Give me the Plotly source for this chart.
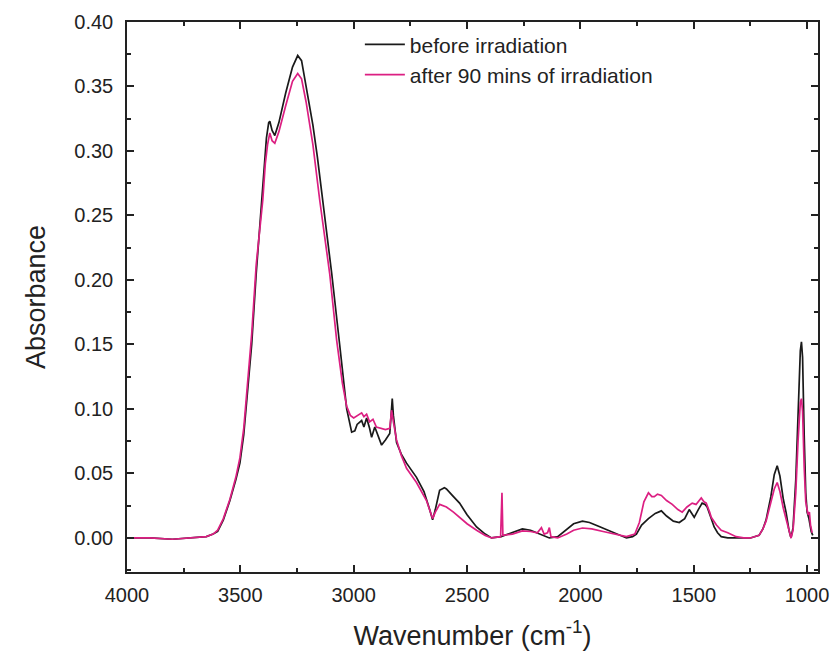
import plotly.graph_objects as go

wn_before = [4000, 3900, 3800, 3700, 3650, 3620, 3600, 3575, 3546, 3520, 3502, 3485, 3471, 3450, 3430,
             3410, 3395, 3385, 3375, 3370, 3360, 3348, 3330, 3300, 3270, 3247, 3230, 3210, 3180, 3160,
             3137, 3097, 3062, 3031, 3009, 2995, 2985, 2965, 2955, 2943, 2930, 2921, 2907, 2895, 2877,
             2860, 2841, 2835, 2830, 2825, 2811, 2790, 2767, 2723, 2690, 2665, 2652, 2640, 2621, 2600,
             2591, 2560, 2533, 2500, 2458, 2420, 2392, 2350, 2300, 2256, 2220, 2180, 2137, 2100, 2060,
             2030, 1991, 1960, 1920, 1880, 1840, 1797, 1770, 1753, 1730, 1700, 1670, 1643, 1620, 1590,
             1564, 1540, 1520, 1505, 1498, 1480, 1463, 1450, 1441, 1425, 1410, 1395, 1379, 1350, 1300,
             1250, 1212, 1195, 1181, 1160, 1145, 1132, 1120, 1105, 1093, 1080, 1071, 1062, 1050, 1040,
             1030, 1025, 1020, 1013, 1006, 1000, 992, 982, 975]
ab_before = [0.000, 0.000, -0.001, 0.000, 0.001, 0.003, 0.005, 0.014, 0.029, 0.045, 0.058, 0.080, 0.107, 0.150, 0.205,
             0.255, 0.290, 0.310, 0.322, 0.323, 0.316, 0.312, 0.322, 0.345, 0.365, 0.374, 0.370, 0.350, 0.320, 0.295,
             0.262, 0.205, 0.150, 0.100, 0.082, 0.083, 0.088, 0.091, 0.086, 0.093, 0.085, 0.078, 0.086, 0.080, 0.072,
             0.076, 0.081, 0.095, 0.108, 0.095, 0.074, 0.065, 0.058, 0.047, 0.036, 0.022, 0.014, 0.022, 0.037, 0.039,
             0.038, 0.032, 0.027, 0.018, 0.0085, 0.003, 0.000, 0.001, 0.004, 0.007, 0.006, 0.003, 0.000, 0.001, 0.007,
             0.011, 0.013, 0.012, 0.009, 0.006, 0.003, 0.000, 0.001, 0.003, 0.010, 0.015, 0.019, 0.021, 0.017, 0.013,
             0.012, 0.015, 0.022, 0.018, 0.016, 0.022, 0.027, 0.026, 0.024, 0.016, 0.0085, 0.004, 0.001, 0.000, 0.000,
             0.000, 0.002, 0.007, 0.014, 0.032, 0.049, 0.056, 0.048, 0.030, 0.020, 0.006, 0.000, 0.008, 0.045, 0.100,
             0.145, 0.152, 0.140, 0.080, 0.035, 0.020, 0.015, 0.005, 0.002]

wn_after = [4000, 3900, 3800, 3700, 3650, 3620, 3600, 3575, 3546, 3520, 3502, 3485, 3471, 3450, 3430,
            3410, 3401, 3390, 3380, 3370, 3360, 3348, 3330, 3300, 3270, 3247, 3230, 3210, 3180, 3150,
            3106, 3075, 3050, 3031, 3015, 3000, 2985, 2965, 2955, 2943, 2930, 2915, 2900, 2880, 2860,
            2841, 2833, 2825, 2811, 2790, 2767, 2723, 2679, 2652, 2640, 2621, 2591, 2560, 2533, 2500,
            2458, 2420, 2392, 2352, 2346, 2342, 2300, 2256, 2220, 2190, 2172, 2160, 2145, 2137, 2130,
            2100, 2060, 2030, 1991, 1950, 1900, 1850, 1797, 1760, 1740, 1720, 1700, 1685, 1674, 1660,
            1643, 1620, 1595, 1570, 1551, 1530, 1507, 1490, 1467, 1455, 1445, 1430, 1423, 1400, 1379,
            1350, 1313, 1280, 1250, 1212, 1195, 1181, 1160, 1145, 1132, 1120, 1105, 1093, 1080, 1071,
            1062, 1050, 1040, 1030, 1025, 1020, 1013, 1006, 1000, 995, 990, 985, 978]
ab_after = [0.000, 0.000, -0.001, 0.000, 0.001, 0.003, 0.006, 0.015, 0.030, 0.047, 0.062, 0.085, 0.112, 0.158, 0.212,
            0.250, 0.262, 0.290, 0.305, 0.314, 0.308, 0.306, 0.315, 0.335, 0.354, 0.360, 0.356, 0.338, 0.305, 0.262,
            0.205, 0.153, 0.120, 0.102, 0.095, 0.093, 0.095, 0.097, 0.094, 0.096, 0.090, 0.092, 0.086, 0.085, 0.084,
            0.085, 0.099, 0.090, 0.076, 0.064, 0.054, 0.043, 0.029, 0.015, 0.020, 0.026, 0.024, 0.020, 0.016, 0.011,
            0.006, 0.002, 0.000, 0.001, 0.035, 0.002, 0.003, 0.0055, 0.005, 0.004, 0.008, 0.003, 0.004, 0.008, 0.001,
            0.000, 0.003, 0.006, 0.0077, 0.007, 0.005, 0.003, 0.001, 0.003, 0.012, 0.028, 0.035, 0.032, 0.032, 0.034,
            0.033, 0.029, 0.026, 0.022, 0.020, 0.024, 0.027, 0.026, 0.031, 0.028, 0.027, 0.020, 0.016, 0.010, 0.006,
            0.004, 0.001, 0.000, 0.000, 0.002, 0.007, 0.013, 0.028, 0.038, 0.043, 0.036, 0.023, 0.014, 0.005, 0.000,
            0.006, 0.035, 0.075, 0.105, 0.108, 0.098, 0.055, 0.028, 0.022, 0.018, 0.020, 0.010, 0.004]

x_ticks = [4000, 3500, 3000, 2500, 2000, 1500, 1000]
y_ticks = [0.00, 0.05, 0.10, 0.15, 0.20, 0.25, 0.30, 0.35, 0.40]
series_names = ["before irradiation", "after 90 mins of irradiation"]

FONT = "Arial, Liberation Sans, sans-serif"
fig = go.Figure()
fig.add_trace(go.Scatter(x=wn_before, y=ab_before, mode="lines", name=series_names[0],
                         line=dict(color="#1a1a1a", width=1.7)))
fig.add_trace(go.Scatter(x=wn_after, y=ab_after, mode="lines", name=series_names[1],
                         line=dict(color="#dc1f82", width=1.7)))

axis_common = dict(showline=True, linecolor="#222", linewidth=1.5, mirror="allticks",
                   ticks="inside", ticklen=7, tickwidth=1.5, tickcolor="#222",
                   showgrid=False, zeroline=False, automargin=False,
                   tickfont=dict(family=FONT, size=20, color="#222"))

fig.update_xaxes(range=[4000, 952], tickvals=x_ticks, ticktext=[str(v) for v in x_ticks],
                 ticklabelstandoff=4,
                 minor=dict(ticks="inside", ticklen=4, tickwidth=1.5, tickcolor="#222", dtick=250, tick0=0),
                 title=dict(text="Wavenumber (cm<sup>-1</sup>)", font=dict(family=FONT, size=27, color="#222"),
                            standoff=21),
                 **axis_common)
fig.update_yaxes(range=[-0.0264, 0.40], tickvals=y_ticks, ticktext=[f"{v:.2f}" for v in y_ticks],
                 ticklabelstandoff=8,
                 minor=dict(ticks="inside", ticklen=4, tickwidth=1.5, tickcolor="#222", dtick=0.025, tick0=0),
                 title=dict(text="Absorbance", font=dict(family=FONT, size=27, color="#222"), standoff=21),
                 **axis_common)

fig.update_layout(width=833, height=655, margin=dict(l=127, r=15, t=22, b=83),
                  paper_bgcolor="white", plot_bgcolor="white",
                  legend=dict(x=0.337, y=0.996, xanchor="left", yanchor="top", bgcolor="rgba(0,0,0,0)",
                              font=dict(family=FONT, size=21, color="#222"), tracegroupgap=0,
                              itemwidth=40))
fig.write_html("out.html", config={"displayModeBar": False},
               post_script="document.body.style.margin='0';document.body.style.overflow='hidden';")
